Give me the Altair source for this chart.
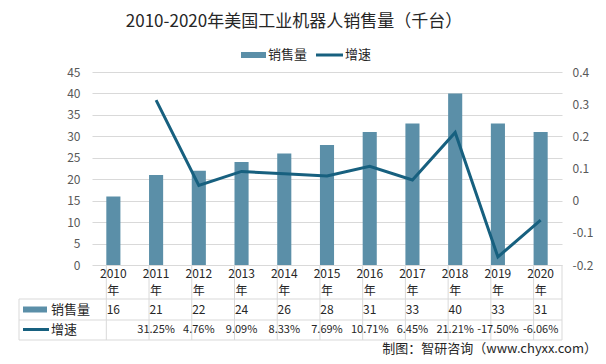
import altair as alt
import pandas as pd

years = ["2010", "2011", "2012", "2013", "2014", "2015", "2016", "2017", "2018", "2019", "2020"]
sales = [16, 21, 22, 24, 26, 28, 31, 33, 40, 33, 31]
growth_pct = [None, 31.25, 4.76, 9.09, 8.33, 7.69, 10.71, 6.45, 21.21, -17.50, -6.06]
left_ticks = [0, 5, 10, 15, 20, 25, 30, 35, 40, 45]
right_ticks = [-0.2, -0.1, 0, 0.1, 0.2, 0.3, 0.4]

title_text = "2010-2020年美国工业机器人销售量（千台）"
footer_text = "制图：智研咨询（www.chyxx.com）"
series_names = ["销售量", "增速"]

df = pd.DataFrame({
    "year": years,
    "sales": sales,
    "growth": [None if g is None else g / 100 for g in growth_pct],
    "sales_lbl": [str(s) for s in sales],
    "growth_lbl": ["" if g is None else f"{g:.2f}%" for g in growth_pct],
})
one = pd.DataFrame({"k": [0]})

BAR = "#5B8FA8"
LINE = "#17607F"
GRID = "#D9D9D9"
TXT = "#262626"
AXT = "#595959"
FONT = "Noto Sans CJK SC"
TFS = 11
W, H = 470, 193


def xenc(**kw):
    return alt.X("year:N", sort=years, axis=None,
                 scale=alt.Scale(paddingInner=0.67, paddingOuter=0.335), **kw)


bars = alt.Chart(df).mark_bar(color=BAR).encode(
    x=xenc(),
    y=alt.Y("sales:Q", scale=alt.Scale(domain=[0, 45]),
            axis=alt.Axis(values=left_ticks, grid=True, gridColor=GRID, domain=False,
                          ticks=False, labelPadding=12, title=None, labelFont=FONT,
                          labelFontSize=12, labelColor=AXT)),
)

line = alt.Chart(df).transform_filter("isValid(datum.growth)").mark_line(
    color=LINE, strokeWidth=3).encode(
    x=xenc(),
    y=alt.Y("growth:Q", scale=alt.Scale(domain=[-0.2, 0.4]),
            axis=alt.Axis(orient="right", values=right_ticks, grid=False, domain=False,
                          ticks=False, labelPadding=10, title=None, labelFont=FONT,
                          labelFontSize=12, labelColor=AXT,
                          labelExpr="datum.value == 0 ? '0' : toString(round(datum.value * 10) / 10)")),
)

# table
vlines = alt.Chart(df).mark_rule(color=GRID).encode(
    x=xenc(bandPosition=0), y=alt.value(193), y2=alt.value(268))
vright = alt.Chart(one).mark_rule(color=GRID).encode(
    x=alt.value(W), y=alt.value(193), y2=alt.value(268))
vleft = alt.Chart(one).mark_rule(color=GRID).encode(
    x=alt.value(-73), y=alt.value(227), y2=alt.value(268))
hlines = [alt.Chart(one).mark_rule(color=GRID).encode(
    x=alt.value(-73), x2=alt.value(W), y=alt.value(yy)) for yy in (227, 248, 268)]

yr_txt = alt.Chart(df).mark_text(font=FONT, fontSize=12, color=TXT).encode(
    x=xenc(), y=alt.value(202), text="year:N")
nian_txt = alt.Chart(df).mark_text(font=FONT, fontSize=12, color=TXT).encode(
    x=xenc(), y=alt.value(219), text=alt.value("年"))
sales_txt = alt.Chart(df).mark_text(font=FONT, fontSize=12, color=TXT).encode(
    x=xenc(), y=alt.value(237.5), text="sales_lbl:N")
growth_txt = alt.Chart(df).mark_text(font=FONT, fontSize=TFS, color=TXT).encode(
    x=xenc(), y=alt.value(257.5), text="growth_lbl:N")

row_sw1 = alt.Chart(one).mark_rect(color=BAR).encode(
    x=alt.value(-69), x2=alt.value(-45), y=alt.value(234.5), y2=alt.value(240.5))
row_sw2 = alt.Chart(one).mark_rule(color=LINE, strokeWidth=3).encode(
    x=alt.value(-69), x2=alt.value(-43), y=alt.value(257.5))
row_lbl1 = alt.Chart(one).mark_text(font=FONT, fontSize=13, color=TXT, align="left").encode(
    x=alt.value(-41), y=alt.value(237.5), text=alt.value(series_names[0]))
row_lbl2 = alt.Chart(one).mark_text(font=FONT, fontSize=13, color=TXT, align="left").encode(
    x=alt.value(-41), y=alt.value(257.5), text=alt.value(series_names[1]))

# legend
leg_sw1 = alt.Chart(one).mark_rect(color=BAR).encode(
    x=alt.value(149), x2=alt.value(174), y=alt.value(-20), y2=alt.value(-14))
leg_lbl1 = alt.Chart(one).mark_text(font=FONT, fontSize=13, color=TXT, align="left").encode(
    x=alt.value(176), y=alt.value(-17), text=alt.value(series_names[0]))
leg_sw2 = alt.Chart(one).mark_rule(color=LINE, strokeWidth=3).encode(
    x=alt.value(224), x2=alt.value(251), y=alt.value(-17))
leg_lbl2 = alt.Chart(one).mark_text(font=FONT, fontSize=13, color=TXT, align="left").encode(
    x=alt.value(253), y=alt.value(-17), text=alt.value(series_names[1]))

title = alt.Chart(one).mark_text(font=FONT, fontSize=17, color=TXT, align="center").encode(
    x=alt.value(202), y=alt.value(-50), text=alt.value(title_text))
footer = alt.Chart(one).mark_text(font=FONT, fontSize=13, color=TXT, align="right").encode(
    x=alt.value(505), y=alt.value(277), text=alt.value(footer_text))

chart = alt.layer(
    bars, line, vlines, vright, vleft, *hlines,
    yr_txt, nian_txt, sales_txt, growth_txt,
    row_sw1, row_sw2, row_lbl1, row_lbl2,
    leg_sw1, leg_lbl1, leg_sw2, leg_lbl2, title, footer,
).resolve_scale(y="independent").properties(
    width=W, height=H,
    autosize=alt.AutoSizeParams(type="none"),
    padding={"left": 84, "top": 64, "right": 36, "bottom": 91},
    background="white",
).configure_view(stroke=None)

chart.save("out.html", embed_options={"renderer": "svg", "actions": False})
